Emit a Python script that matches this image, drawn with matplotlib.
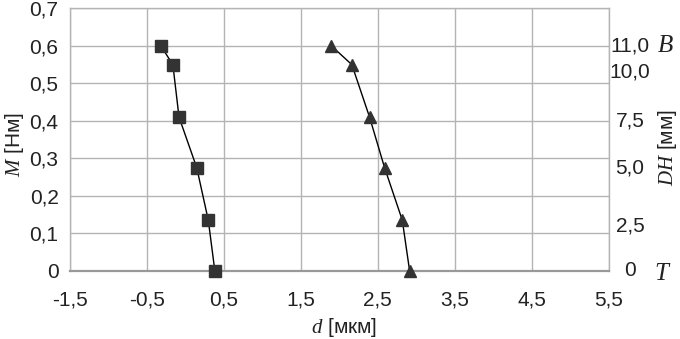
import matplotlib
matplotlib.use('Agg')
import matplotlib.pyplot as plt

# data
moment = [0, 0.135, 0.275, 0.41, 0.55, 0.6]
d_square = [0.385, 0.30, 0.15, -0.08, -0.16, -0.315]
d_triangle = [2.915, 2.82, 2.59, 2.395, 2.165, 1.90]

x_ticks = [-1.5, -0.5, 0.5, 1.5, 2.5, 3.5, 4.5, 5.5]
y_ticks = [0, 0.1, 0.2, 0.3, 0.4, 0.5, 0.6, 0.7]
dh_pos = [0, 0.12, 0.275, 0.40, 0.53, 0.60]
dh_labels = ['0', '2,5', '5,0', '7,5', '10,0', '11,0']

plt.rcParams['font.family'] = ['Liberation Sans', 'DejaVu Sans']
plt.rcParams['mathtext.fontset'] = 'custom'
plt.rcParams['mathtext.it'] = 'Liberation Serif:italic'
plt.rcParams['mathtext.rm'] = 'Liberation Serif'
fs = 15
grid_c = '#b4b4b4'
mark_c = '#333333'
txt_c = '#222222'

fig = plt.figure( figsize=( 6.8, 3.39 ), dpi=100 )
ax = fig.add_axes( [0.1025, 0.2015, 0.7925, 0.7735] )

ax.plot( d_square, moment, color='black', lw=1.0, marker='s', ms=8,
         mfc=mark_c, mec=mark_c, zorder=3, clip_on=False )
ax.plot( d_triangle, moment, color='black', lw=1.0, marker='^', ms=9,
         mfc=mark_c, mec=mark_c, zorder=3, clip_on=False )

ax.set_xlim( -1.5, 5.5 )
ax.set_ylim( 0, 0.7 )
ax.set_xticks( x_ticks )
ax.set_yticks( y_ticks )
ax.set_xticklabels( [f'{v:g}'.replace( '.', ',' ) for v in x_ticks], fontsize=fs, color=txt_c )
ax.set_yticklabels( [f'{v:g}'.replace( '.', ',' ) for v in y_ticks], fontsize=fs, color=txt_c )
ax.tick_params( length=0, pad=8 )
ax.tick_params( axis='x', pad=14 )
ax.grid( True, color=grid_c, lw=1.0 )
for s in ax.spines.values():
    s.set_color( grid_c )
    s.set_linewidth( 1.0 )
ax.spines['bottom'].set_color( '#999999' )
ax.spines['bottom'].set_linewidth( 1.6 )

# axis titles
fig.text( 0.022, 0.575, r'$M$ [Нм]', fontsize=fs, rotation=90,
          ha='center', va='center', color=txt_c )
fig.text( 0.506, 0.035, r'$d$ [мкм]', fontsize=fs, ha='center', va='center', color=txt_c )

# right hand DH scale
for p, lab in zip( dh_pos, dh_labels ):
    ax.text( 1.04, p / 0.7, lab, transform=ax.transAxes, fontsize=fs,
             ha='center', va='center', color=txt_c )
ax.text( 1.105, 0.6 / 0.7 + 0.005, r'$B$', transform=ax.transAxes, fontsize=fs + 3,
         ha='center', va='center', color=txt_c )
ax.text( 1.10, -0.01, r'$T$', transform=ax.transAxes, fontsize=fs + 3,
         ha='center', va='center', color=txt_c )
fig.text( 0.982, 0.565, r'$DH$ [мм]', fontsize=fs, rotation=90, ha='center', va='center',
          color=txt_c )

fig.savefig( 'out.png', dpi=100 )
